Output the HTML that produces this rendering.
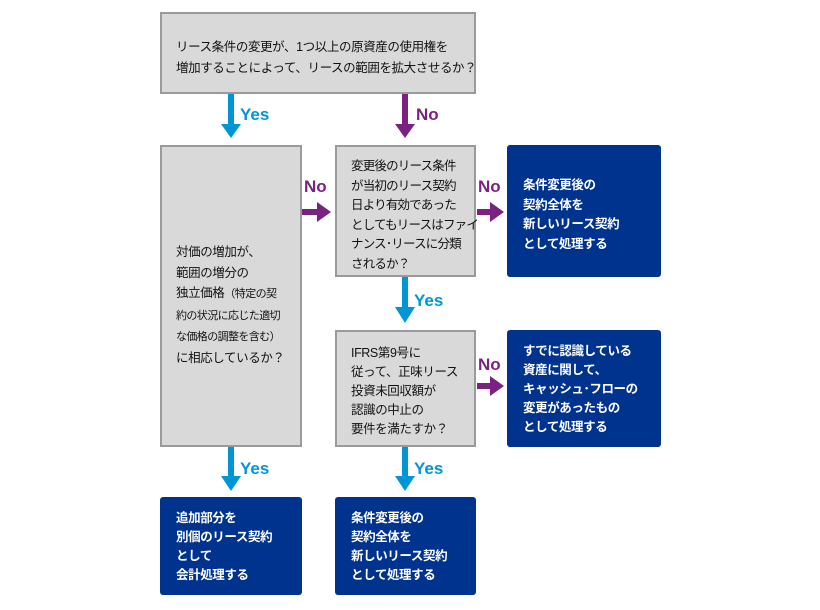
<!DOCTYPE html>
<html><head><meta charset="utf-8"><style>
body{margin:0;width:820px;height:610px;background:#fff;position:relative;overflow:hidden;font-family:"Liberation Sans","Noto Sans CJK JP",sans-serif}
.b{position:absolute;box-sizing:border-box;white-space:nowrap;letter-spacing:-0.4px}
.g{background:#d9d9d9;border:2px solid #9a9a9a;color:#111;font-size:12.5px;line-height:19.5px}
.d{background:#00338d;border-radius:3px;color:#fff;font-weight:bold;font-size:12.5px;line-height:19.5px}
.l{position:absolute;font-weight:bold;font-size:17px}
.y{color:#0096d6}.n{color:#7a2182}
svg{position:absolute;left:0;top:0}
</style></head><body>
<svg width="820" height="610">
<g fill="#0096d6">
<rect x="228" y="93" width="6" height="33"/><polygon points="221,124 241,124 231,138"/>
<rect x="402" y="277" width="6" height="32"/><polygon points="395,307 415,307 405,323"/>
<rect x="228" y="447" width="6" height="30"/><polygon points="221,476 241,476 231,491"/>
<rect x="402" y="447" width="6" height="30"/><polygon points="395,476 415,476 405,491"/>
</g>
<g fill="#7a2182">
<rect x="402" y="93" width="6" height="33"/><polygon points="395,124 415,124 405,138"/>
<rect x="301" y="209" width="18" height="6"/><polygon points="317,202 317,222 331,212"/>
<rect x="477" y="209" width="15" height="6"/><polygon points="490,202 490,222 504,212"/>
<rect x="477" y="383" width="15" height="6"/><polygon points="490,376 490,396 504,386"/>
</g>
</svg>
<div class="b g" style="left:160px;top:12px;width:316px;height:82px;padding:23px 0 0 14px;line-height:21px">リース条件の変更が、1つ以上の原資産の使用権を<br>増加することによって、リースの範囲を拡大させるか？</div>
<div class="l y" style="left:240px;top:105px">Yes</div>
<div class="l n" style="left:416px;top:105px">No</div>
<div class="b g" style="left:160px;top:145px;width:142px;height:302px;padding:95px 0 0 14px;line-height:20.5px">対価の増加が、<br>範囲の増分の<br>独立価格<span style="font-size:11px;letter-spacing:-0.6px">（特定の契<br>約の状況に応じた適切<br>な価格の調整を含む）</span><br>に相応しているか？</div>
<div class="l n" style="left:304px;top:177px">No</div>
<div class="b g" style="left:335px;top:145px;width:141px;height:132px;padding:10px 0 0 14px;letter-spacing:-0.8px">変更後のリース条件<br>が当初のリース契約<br>日より有効であった<br>としてもリースはファイ<br>ナンス･リースに分類<br>されるか？</div>
<div class="l n" style="left:478px;top:177px">No</div>
<div class="b d" style="left:507px;top:145px;width:154px;height:132px;padding:31px 0 0 16px">条件変更後の<br>契約全体を<br>新しいリース契約<br>として処理する</div>
<div class="l y" style="left:414px;top:291px">Yes</div>
<div class="b g" style="left:335px;top:330px;width:141px;height:117px;padding:12px 0 0 14px;line-height:19px">IFRS第9号に<br>従って、正味リース<br>投資未回収額が<br>認識の中止の<br>要件を満たすか？</div>
<div class="l n" style="left:478px;top:355px">No</div>
<div class="b d" style="left:507px;top:330px;width:154px;height:117px;padding:12px 0 0 16px;line-height:19px">すでに認識している<br>資産に関して、<br>キャッシュ･フローの<br>変更があったもの<br>として処理する</div>
<div class="l y" style="left:240px;top:459px">Yes</div>
<div class="l y" style="left:414px;top:459px">Yes</div>
<div class="b d" style="left:160px;top:497px;width:142px;height:98px;padding:12px 0 0 16px;line-height:19px">追加部分を<br>別個のリース契約<br>として<br>会計処理する</div>
<div class="b d" style="left:335px;top:497px;width:141px;height:98px;padding:12px 0 0 16px;line-height:19px">条件変更後の<br>契約全体を<br>新しいリース契約<br>として処理する</div>
</body></html>
